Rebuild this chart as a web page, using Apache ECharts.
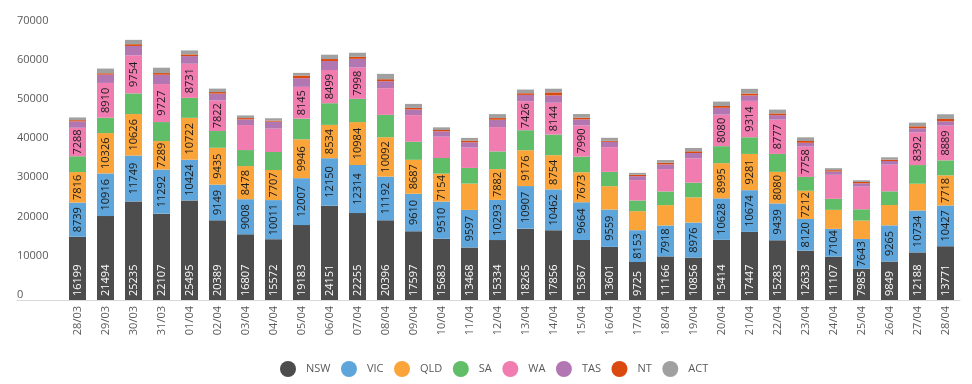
<!DOCTYPE html>
<html><head><meta charset="utf-8">
<script src="https://cdn.jsdelivr.net/npm/echarts@6/dist/echarts.min.js"></script>
<style>html,body{margin:0;padding:0;background:#fff}#c{width:972px;height:384px}</style>
</head><body><div id="c"></div>
<script>
var categories = ['28/03','29/03','30/03','31/03','01/04','02/04','03/04','04/04','05/04','06/04','07/04','08/04','09/04','10/04','11/04','12/04','13/04','14/04','15/04','16/04','17/04','18/04','19/04','20/04','21/04','22/04','23/04','24/04','25/04','26/04','27/04','28/04'];
var NSW = [16199,21494,25235,22107,25495,20389,16807,15572,19183,24151,22255,20396,17597,15683,13468,15334,18265,17856,15367,13601,9725,11166,10856,15414,17447,15283,12633,11107,7985,9849,12188,13771];
var VIC = [8739,10916,11749,11292,10424,9149,9008,10011,12007,12150,12314,11192,9610,9510,9597,10293,10907,10462,9664,9559,8153,7918,8976,10628,10674,9439,8120,7104,7643,9265,10734,10427];
var QLD = [7816,10326,10626,7289,10722,9435,8478,7707,9946,8534,10984,10092,8687,7154,6740,7882,9176,8754,7673,5980,4870,5210,6450,8995,9281,8080,7212,4870,4700,5210,6850,7718];
var SA  = [4050,3930,5290,4870,5120,4300,4100,4610,5290,5550,5950,5720,4610,4010,4010,4530,5120,5290,4010,3670,2730,3500,3760,4350,4270,4600,3550,2820,2900,3500,4780,3840];
var WA  = [7288,8910,9754,9727,8731,7822,6400,5980,8145,8499,7998,6830,6830,5460,5210,6230,7426,8144,7990,6320,5210,5720,6230,8080,9314,8777,7758,6150,5800,6830,8392,8889];
var TAS = [1650,2130,2390,2390,1960,1750,1450,1790,2220,2300,2250,1790,1450,1370,1370,1880,1620,1880,1540,1370,1020,1200,1370,1750,1370,1150,980,850,850,940,1020,1110];
var NT  = [300,350,450,430,430,400,340,260,680,510,500,510,400,340,430,430,430,770,430,260,340,430,430,450,510,450,450,340,340,340,510,600];
var ACT = [700,1200,1110,1370,1020,880,680,600,680,1110,1050,1370,1020,680,680,1020,940,940,940,770,510,680,850,1130,1200,970,950,510,430,600,940,1200];
var yTicks = [0,10000,20000,30000,40000,50000,60000,70000];

var seriesDefs = [
  {name:'NSW', data:NSW, color:'#4D4D4D', labelColor:'#ffffff', pos:'insideBottom'},
  {name:'VIC', data:VIC, color:'#5DA5DA', labelColor:'#1a1a1a', pos:'inside'},
  {name:'QLD', data:QLD, color:'#FAA43A', labelColor:'#1a1a1a', pos:'inside'},
  {name:'SA',  data:SA,  color:'#60BD68', labelColor:'#1a1a1a', pos:'inside'},
  {name:'WA',  data:WA,  color:'#F17CB0', labelColor:'#1a1a1a', pos:'inside'},
  {name:'TAS', data:TAS, color:'#B276B2', labelColor:'#1a1a1a', pos:'inside'},
  {name:'NT',  data:NT,  color:'#DA4A10', labelColor:'#1a1a1a', pos:'inside'},
  {name:'ACT', data:ACT, color:'#A0A0A0', labelColor:'#1a1a1a', pos:'inside'}
];
var FONT = '"Open Sans", sans-serif';
var series = seriesDefs.map(function(s){
  var lab = {
    show:true, rotate:90, fontSize:11, fontFamily:FONT, color:s.labelColor,
    position:s.pos,
    formatter:function(p){ return p.value >= 7000 ? String(p.value) : ''; }
  };
  if (s.pos === 'insideBottom') { lab.align = 'left'; lab.verticalAlign = 'middle'; lab.distance = 4; }
  else { lab.align = 'center'; lab.verticalAlign = 'middle'; }
  return {
    name:s.name, type:'bar', stack:'total', data:s.data, barWidth:17,
    itemStyle:{color:s.color}, label:lab, emphasis:{disabled:true},
    xAxisIndex:0, yAxisIndex:0
  };
});

var chart = echarts.init(document.getElementById('c'), null, {renderer:'canvas'});
chart.setOption({
  animation:false,
  backgroundColor:'#ffffff',
  textStyle:{fontFamily:FONT},
  grid:[
    {left:63.5, right:12.5, top:26.6, bottom:84},
    {left:17, right:12, top:26.6, bottom:84}
  ],
  legend:{
    data:seriesDefs.map(function(s){return s.name;}),
    left:275, top:356, icon:'circle', itemWidth:16, itemHeight:16, itemGap:10.5,
    textStyle:{fontSize:11, fontFamily:FONT, color:'#595959', padding:[0,0,0,5]}
  },
  xAxis:[
    {type:'category', data:categories, gridIndex:0,
     axisLine:{show:false}, axisTick:{show:false},
     axisLabel:{rotate:90, margin:6, fontSize:11, fontFamily:FONT, color:'#595959', interval:0}},
    {type:'value', gridIndex:1, min:0, max:1,
     axisLine:{show:true, onZero:false, lineStyle:{color:'#d9d9d9', width:1}},
     axisTick:{show:false}, axisLabel:{show:false}, splitLine:{show:false}}
  ],
  yAxis:[
    {type:'value', gridIndex:0, min:yTicks[0], max:yTicks[yTicks.length-1], interval:yTicks[1]-yTicks[0],
     axisLine:{show:false}, axisTick:{show:false}, splitLine:{show:false},
     axisLabel:{align:'left', margin:46.5, verticalAlign:'bottom', fontSize:11, fontFamily:FONT, color:'#595959',
       formatter:function(v){ return String(v); }}},
    {type:'value', gridIndex:1, min:0, max:1, show:false}
  ],
  series:series
});
</script></body></html>
